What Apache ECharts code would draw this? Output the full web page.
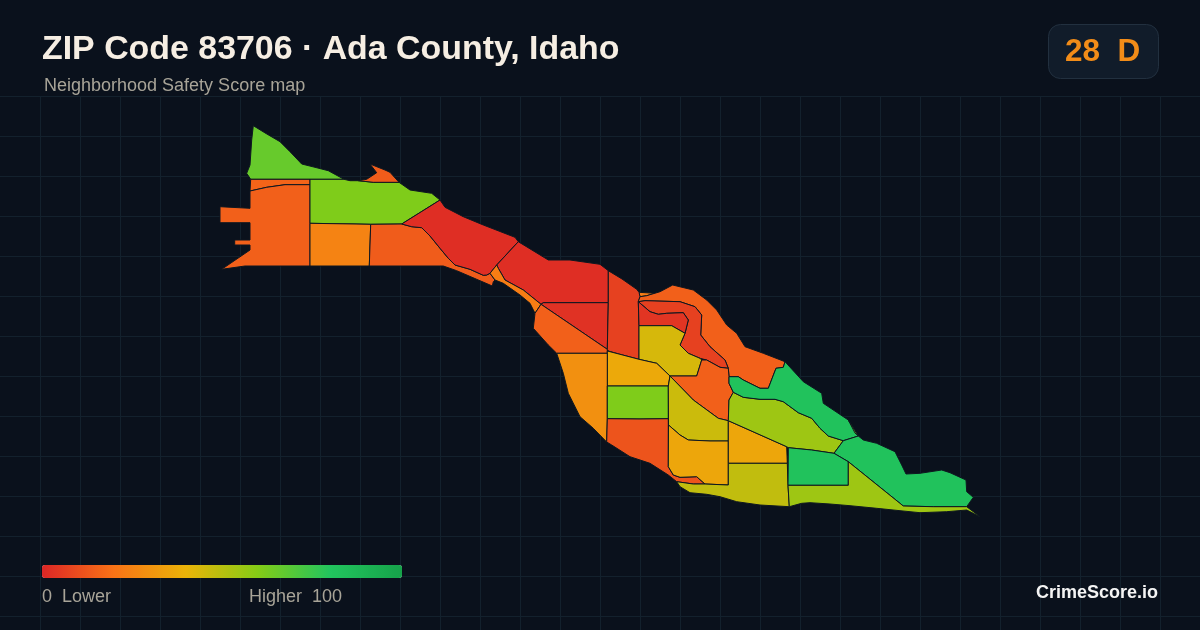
<!DOCTYPE html>
<html>
<head>
<meta charset="utf-8">
<style>html,body{margin:0;padding:0;background:#0a111c}#chart{width:1200px;height:630px}</style>
<script src="https://cdn.jsdelivr.net/npm/echarts@6/dist/echarts.min.js"></script>
</head>
<body>
<div id="chart"></div>
<script>
// Neighborhood safety scores
const neighborhoods = ["A","B","C","D","E","F","G","H","I","J","K","L","M","N","O","P","Q","R","S","T","U","V","W","X","Y","Z","AA","AB","AC","AD","AE"];
const safetyScores = [66,16,15,61,14,25,14,2,2,23,3,15,7,15,7,4,44,15,37,29,61,12,46,36,36,48,55,82,82,82,55];
const scoreStops = ["#dc2626","#f97316","#eab308","#84cc16","#22c55e","#16a34a"];
const scoreRange = [0,100];
const overallScore = 28;
const overallGrade = "D";

// Neighborhood boundaries (map geometry, in map units)
const boundaries = {
A:[[[253.3,125.7],[266,133.5],[280,141.7],[290,151.7],[301.7,164],[315,167.3],[328.3,170.7],[344,179.3],[310,179.3],[250.7,179.3],[246.7,173.3],[250,165],[251.7,140]]],
B:[[[250.7,179.3],[310,179.3],[310,184.7],[285,184.7],[266.7,187.3],[250,191]]],
C:[[[250,191],[266.7,187.3],[285,184.7],[310,184.7],[310,223.3],[310,266],[245,266],[221.7,269.3],[250,250],[250,245],[234.7,245],[234.7,240],[250,240],[250,222.7],[220,222.7],[220,206.7],[250,208.3]]],
D:[[[310,179.3],[344,179.3],[350,180.7],[358.3,180.7],[373.3,182.3],[399,182.3],[410,190],[431.7,193.3],[440,200],[401.7,224],[370.7,224.3],[355,224],[310,223.3]]],
E:[[[358.3,180.7],[366.7,179.3],[376.7,172.7],[370,164],[385,170],[390,172.3],[399,182.3],[373.3,182.3]]],
F:[[[310,223.3],[355,224],[370.7,224.3],[370,245],[369.3,266],[310,266]]],
G:[[[370.7,224.3],[401.7,224],[411.7,226.7],[421.7,227.7],[430,236],[440,248.3],[448.3,258.3],[455,265],[470,269.3],[483.3,275.3],[486.7,275],[490,273.3],[495,280],[493.3,281.7],[492.3,286],[476.7,279.3],[456.7,270.7],[443.3,266],[369.3,266]]],
H:[[[440,200],[445,207.3],[463.3,216.7],[483.3,225],[515,237.3],[518.3,241.7],[496.7,265],[490,273.3],[486.7,275],[483.3,275.3],[470,269.3],[455,265],[448.3,258.3],[440,248.3],[430,236],[421.7,227.7],[411.7,226.7],[401.7,224]]],
I:[[[518.3,241.7],[548.3,260],[570,260],[600,264.3],[608.3,270.7],[608.3,302.7],[543.3,302.7],[541,304.3],[523.3,290],[505,280],[498.3,268.3],[496.7,265]]],
J:[[[496.7,265],[498.3,268.3],[505,280],[523.3,290],[541,304.3],[535,313.3],[530,303.3],[520,295],[503.3,283.3],[495,280],[490,273.3]],[[639,292.3],[655,293.3],[646.7,295.7],[640,296.7]]],
K:[[[541,304.3],[543.3,302.7],[608.3,302.7],[607.3,349.3]]],
L:[[[541,304.3],[607.3,349.3],[607.3,353.3],[556.7,353.3],[548.3,345],[533.3,328.3],[535,313.3]]],
M:[[[608.3,270.7],[622,279],[636.7,289.3],[639,292.3],[640,296.7],[638.3,301.7],[639,325.7],[639,359.3],[620,354.3],[608.3,351],[607.3,349.3],[608.3,302.7]]],
N:[[[640,296.7],[646.7,295.7],[660,291.7],[672.7,285],[693.3,290],[706.7,300],[716.7,310],[726.7,325],[736.7,333.3],[745,346.7],[763.3,353.3],[785,361.7],[783.3,367.3],[776,368.3],[768.3,388.3],[760,388.3],[743.3,380],[738.3,376.7],[729,376.7],[728.3,368.3],[725,360],[710,346.7],[700.7,335],[701.7,315],[695,306.7],[680,301.7],[645,300.7],[638.3,301.7]]],
O:[[[638.3,301.7],[645,300.7],[680,301.7],[695,306.7],[701.7,315],[700.7,335],[710,346.7],[725,360],[728.3,368.3],[720,367.3],[706.7,360],[700,358.3],[688.3,353.3],[680,345],[685,333.3],[688.3,320],[683.3,312.7],[666.7,313.3],[658.3,314.3],[650,311.7]]],
P:[[[638.3,301.7],[650,311.7],[658.3,314.3],[666.7,313.3],[683.3,312.7],[688.3,320],[685,333.3],[671.7,325.7],[639,325.7]]],
Q:[[[639,325.7],[671.7,325.7],[685,333.3],[680,345],[688.3,353.3],[700,358.3],[701.7,360],[696.7,376],[670,376],[656.7,363.3],[639,359.3]]],
R:[[[701.7,360],[706.7,360],[720,367.3],[728.3,368.3],[729,376.7],[729,383.3],[733.3,392.3],[729,400],[728.3,420.7],[718.3,418.3],[693.3,400],[670,376],[696.7,376]]],
S:[[[607.3,351],[608.3,351],[620,354.3],[639,359.3],[656.7,363.3],[670,376],[668.3,386],[607.3,386]]],
T:[[[556.7,353.3],[607.3,353.3],[607.3,386],[607.3,418.7],[606.7,442],[593.3,428.3],[580,416.7],[568.3,393.3],[563.3,373.3]]],
U:[[[607.3,386],[668.3,386],[668.3,418.7],[640,419],[607.3,418.7]]],
V:[[[607.3,418.7],[640,419],[668.3,418.7],[668.3,466.7],[673.3,475],[680,477.3],[696.7,476.7],[705,484],[693.3,484],[676.7,481.7],[668.3,475],[650,463.3],[630,456.7],[611.7,445],[606.7,442]]],
W:[[[670,376],[693.3,400],[718.3,418.3],[728.3,420.7],[728.3,441],[710,441],[688.3,440],[680,435],[668.5,425],[668.3,386]]],
X:[[[668.5,425],[680,435],[688.3,440],[710,441],[728.3,441],[728.3,463.3],[728.3,485],[705,484],[696.7,476.7],[680,477.3],[673.3,475],[668.3,466.7]]],
Y:[[[728.3,420.7],[786.7,446.7],[787.3,463.3],[728.3,463.3]]],
Z:[[[728.3,463.3],[787.3,463.3],[788,485.3],[789.3,506.7],[760,505],[736.7,501.7],[720,496.7],[706.7,494.3],[690,492.7],[680,486.7],[676.7,481.7],[693.3,484],[705,484],[728.3,485]]],
AA:[[[733.3,392.3],[743.3,397.3],[760,399.3],[775,399.3],[783.3,401.7],[798.3,412.7],[811.7,418.3],[820,428.3],[828.3,436],[843.3,440.7],[834,453.3],[811.7,450],[788.3,447.7],[786.7,446.7],[728.3,420.7],[729,400]]],
AB:[[[785,361.7],[783.3,367.3],[776,368.3],[768.3,388.3],[760,388.3],[743.3,380],[738.3,376.7],[729,376.7],[729,383.3],[733.3,392.3],[743.3,397.3],[760,399.3],[775,399.3],[783.3,401.7],[798.3,412.7],[811.7,418.3],[820,428.3],[828.3,436],[843.3,440.7],[858.3,436],[848.3,420],[823.3,403.3],[821.7,393.3],[803.3,381.7]]],
AC:[[[858.3,436],[863.3,440],[876.7,443.3],[895,451.7],[901.7,465],[906,474],[920,473.3],[941.7,470],[950,472.7],[966,480],[966.7,491.7],[973.3,497.3],[966.7,506.7],[933.3,506.7],[903.3,506],[848.3,461.7],[834,453.3],[843.3,440.7]]],
AD:[[[788.3,447.7],[811.7,450],[834,453.3],[848.3,461.7],[848.3,485.3],[788,485.3]]],
AE:[[[788,485.3],[848.3,485.3],[848.3,461.7],[903.3,506],[933.3,506.7],[966.7,506.7],[980,516.7],[966.7,510],[946.7,511.7],[920,512.7],[900,510.7],[876.7,508.3],[850,505.7],[830,504],[810,502.7],[801.7,503.3],[789.3,506.7]],[[848.3,420],[858.3,436],[855,433]]]
};

const geoFeatures = neighborhoods.map(function (name) {
  return { type: "Feature", properties: { name: name }, geometry: { type: "MultiPolygon", coordinates: boundaries[name].map(function (ring) { return [ring]; }) } };
});
echarts.registerMap("zip83706", { type: "FeatureCollection", features: geoFeatures });

// Background grid
const gridLines = [];
for (let x = 40; x < 1200; x += 40) gridLines.push({ type: "line", silent: true, z: -1, shape: { x1: x + .5, y1: 96, x2: x + .5, y2: 630 }, style: { stroke: "#13212d", lineWidth: 1 } });
for (let y = 96; y < 630; y += 40) gridLines.push({ type: "line", silent: true, z: -1, shape: { x1: 0, y1: y + .5, x2: 1200, y2: y + .5 }, style: { stroke: "#13212d", lineWidth: 1 } });

const font = "'Liberation Sans', Arial, sans-serif";
const chart = echarts.init(document.getElementById("chart"), null, { renderer: "canvas" });
chart.setOption({
  backgroundColor: "#0a111c",
  animation: false,
  title: [
    { text: "ZIP Code 83706 · Ada County, Idaho", left: 42, top: 33, padding: 0, textStyle: { color: "#f6eee3", fontSize: 33.9, fontWeight: "bold", fontFamily: font } },
    { text: "Neighborhood Safety Score map", left: 44, top: 77, padding: 0, textStyle: { color: "#a8a498", fontSize: 18, fontWeight: "normal", fontFamily: font } }
  ],
  visualMap: {
    type: "continuous", min: scoreRange[0], max: scoreRange[1], orient: "horizontal",
    left: 42, top: 565, padding: 0, itemWidth: 13, itemHeight: 360,
    calculable: false, realtime: false, showLabel: false, text: null, hoverLink: false,
    inRange: { color: scoreStops }
  },
  series: [{
    type: "map", map: "zip83706", roam: false, selectedMode: false, silent: true,
    projection: { project: function (p) { return p; }, unproject: function (p) { return p; } },
    boundingCoords: [[0, 0], [1200, 630]],
    left: 0, top: 0, width: 1200, height: 630,
    label: { show: false },
    itemStyle: { borderColor: "#0e1720", borderWidth: 1 },
    data: neighborhoods.map(function (n, i) { return { name: n, value: safetyScores[i] }; })
  }],
  graphic: gridLines.concat([
    { type: "rect", shape: { x: 1048.5, y: 24.5, width: 110, height: 54, r: 12 }, style: { fill: "#111c2a", stroke: "#22303f", lineWidth: 1 } },
    { type: "text", x: 1065, y: 52.5, style: { text: overallScore + "  " + overallGrade, fill: "#f28c18", font: "bold 31.5px " + font, textVerticalAlign: "middle" } },
    { type: "text", x: 42, y: 597.5, style: { text: "0  Lower", fill: "#a8a498", font: "18px " + font, textVerticalAlign: "middle" } },
    { type: "text", x: 249, y: 597.5, style: { text: "Higher  100", fill: "#a8a498", font: "18px " + font, textVerticalAlign: "middle" } },
    { type: "text", x: 1158, y: 593.5, style: { text: "CrimeScore.io", fill: "#f4f4f4", font: "bold 18px " + font, textAlign: "right", textVerticalAlign: "middle" } }
  ])
});
</script>
</body>
</html>
